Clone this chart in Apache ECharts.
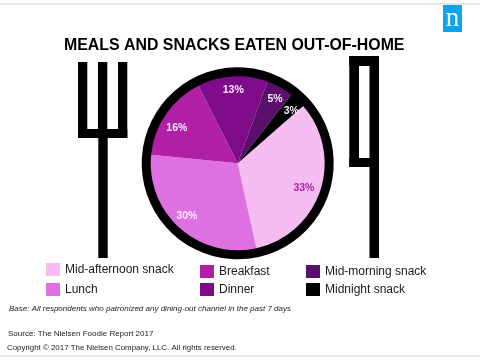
<!DOCTYPE html>
<html>
<head>
<meta charset="utf-8">
<style>html,body{margin:0;padding:0;background:#fff}#c{width:480px;height:360px}</style>
<script src="https://cdn.jsdelivr.net/npm/echarts@6/dist/echarts.min.js"></script>
</head>
<body>
<div id="c"></div>
<script>
var categories = ['Mid-afternoon snack', 'Lunch', 'Breakfast', 'Dinner', 'Mid-morning snack', 'Midnight snack'];
var shares = [33, 30, 16, 13, 5, 3];
var colors = ['#f5bdf1', '#df70e2', '#b01fa6', '#7e0c8a', '#5b0f6c', '#000000'];
var labelColors = ['#b01fa6', '#fbeafb', '#fbeafb', '#fbeafb', '#fbeafb', '#fbeafb'];
var labelNudges = [[-5, 1], [-1, -3], [1, 7], [0, 2], [1, 1], [2, 2]];
var legendSpots = [[46, 263], [46, 283], [200, 265], [200, 283], [306, 265], [306, 283]];
var titleText = 'MEALS AND SNACKS EATEN OUT-OF-HOME';
var baseNote = 'Base: All respondents who patronized any dining-out channel in the past 7 days';
var sourceNote = 'Source: The Nielsen Foodie Report 2017';
var copyrightNote = 'Copyright © 2017 The Nielsen Company, LLC. All rights reserved.';

var font = '"Liberation Sans", Arial, sans-serif';
var chart = echarts.init(document.getElementById('c'), null, {renderer: 'canvas'});
var center = [237.7, 163.3];
var startAngle = 41.2;
var flat = {borderWidth: 0, borderColor: 'transparent', borderRadius: 0};
var pieData = categories.map(function (n, i) {
  return {name: n, value: shares[i], itemStyle: Object.assign({color: colors[i]}, flat)};
});

function bar(x, y, w, h, color) {
  return {type: 'rect', shape: {x: x, y: y, width: w, height: h}, style: {fill: color || '#000'}, silent: true};
}
function txt(x, y, text, size, style) {
  return {type: 'text', x: x, y: y, silent: true,
    style: Object.assign({text: text, font: size + 'px ' + font, fill: '#1a1a1a', textVerticalAlign: 'middle'}, style || {})};
}

chart.setOption({
  animation: false,
  backgroundColor: '#fff',
  title: {
    text: titleText, left: 64, top: 37, padding: 0,
    textStyle: {fontFamily: font, fontSize: 15.9, fontWeight: 'bold', color: '#000', lineHeight: 18}
  },
  legend: categories.map(function (n, i) {
    return {
      data: [n], left: legendSpots[i][0], top: legendSpots[i][1], icon: 'rect',
      itemWidth: 14, itemHeight: 13, selectedMode: false, padding: 0,
      textStyle: {fontFamily: font, fontSize: 12, color: '#1a1a1a'}
    };
  }),
  series: [
    {
      type: 'pie', center: center, radius: [86, 96], silent: true, startAngle: startAngle,
      label: {show: false}, labelLine: {show: false}, legendHoverLink: false,
      data: [{name: 'ring', value: 1, itemStyle: Object.assign({color: '#000'}, flat)}]
    },
    {
      type: 'pie', center: center, radius: [0, 87], startAngle: startAngle, clockwise: true,
      silent: true, label: {show: false}, labelLine: {show: false},
      itemStyle: flat, data: pieData
    },
    {
      type: 'pie', center: center, radius: [57, 87], startAngle: startAngle, clockwise: true,
      silent: true, labelLine: {show: false}, itemStyle: flat,
      label: {
        show: true, position: 'inside', fontFamily: font, fontSize: 10.5, fontWeight: 'bold',
        formatter: function (p) { return p.value + '%'; },
        color: '#fff'
      },
      data: categories.map(function (n, i) {
        return {name: n, value: shares[i],
          itemStyle: Object.assign({}, flat, {color: 'rgba(0,0,0,0)'}),
          label: {color: labelColors[i], offset: labelNudges[i]}};
      })
    }
  ],
  graphic: {elements: [
    bar(0, 3, 480, 2, '#e6e6e6'),
    bar(0, 355, 480, 2, '#e6e6e6'),
    bar(443, 5, 19, 27, '#0ba5ec'),
    txt(452.5, 19, 'n', 27, {fill: '#fff', font: '27px "Liberation Serif", serif', textAlign: 'center'}),
    // fork
    bar(78, 62, 9.3, 76), bar(98, 62, 9.3, 76), bar(118, 62, 9.3, 76),
    bar(78, 129, 49.3, 9), bar(98.3, 130, 9.4, 128),
    // knife
    bar(349.3, 56, 9.7, 111), bar(369.5, 56, 9.5, 202),
    bar(349.3, 56, 29.7, 10), bar(349.3, 158, 29.7, 9),
    txt(9, 309, baseNote, 8, {font: 'italic 8px ' + font}),
    txt(8, 333.5, sourceNote, 8),
    txt(7, 347.5, copyrightNote, 7.9)
  ]}
});
</script>
</body>
</html>
